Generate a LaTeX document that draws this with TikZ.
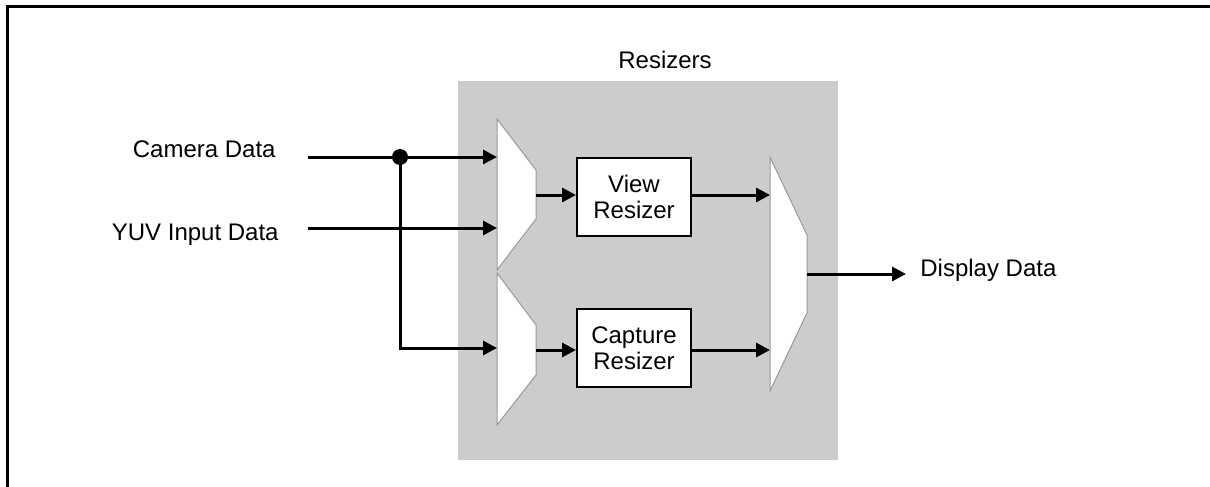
\documentclass[tikz,border=0pt]{standalone}
\usepackage{fontspec}
\setmainfont{Liberation Sans}
\usetikzlibrary{arrows.meta,positioning}
\definecolor{resbg}{RGB}{204,204,204}

\begin{document}
\begin{tikzpicture}[x=0.5pt, y=-0.5pt, font=\fontsize{12}{13}\selectfont,
  sig/.style={line width=1.5pt, -{Triangle[length=7pt,width=7pt]}},
  muxshape/.style={draw=gray!80, line width=0.5pt, fill=white},
  blk/.style={draw, line width=1pt, fill=white, minimum width=57pt,
    minimum height=39pt, align=center, inner sep=0pt},
  lbl/.style={inner sep=0pt}]
  \useasboundingbox (0,0) rectangle (1210,487);
  % outer frame
  \draw[line width=1.5pt] (7,487) -- (7,6) -- (1210,6);
  % resizer area
  \fill[resbg] (458,81) rectangle (838,460);
  \node[lbl, anchor=base] (restitle) at (665,68) {Resizers};
  % muxes
  \draw[muxshape] (497,119) -- (536,170) -- (536,219) -- (497,270) -- cycle;
  \draw[muxshape] (497,273) -- (536,325) -- (536,375) -- (497,425) -- cycle;
  \draw[muxshape] (770,157) -- (807,235) -- (807,313) -- (770,391) -- cycle;
  \node[blk] (view) at (634,197) {View\\Resizer};
  \node[blk] (capt) at (634,348) {Capture\\Resizer};
  % inputs and output labels
  \node[lbl, anchor=base east] (cam) at (276,157) {Camera Data};
  \node[lbl, anchor=base east] (yuv) at (279,240) {YUV Input Data};
  \node[lbl, anchor=base west] (disp) at (920,276) {Display Data};
  % port points
  \coordinate (camS) at (308,157);
  \coordinate (yuvS) at (308,228);
  \coordinate (tap) at (400,157);
  \coordinate (m1a) at (497,157);
  \coordinate (m1b) at (497,228);
  \coordinate (m2a) at (497,348);
  \coordinate (m1o) at (536,195);
  \coordinate (m2o) at (536,350);
  \coordinate (m3a) at (770,195);
  \coordinate (m3b) at (770,350);
  \coordinate (m3o) at (807,274);
  \coordinate (dispE) at (906,274);
  % connectors
  \draw[sig] (camS) -- (m1a);
  \draw[sig] (yuvS) -- (m1b);
  \draw[sig] (tap) |- (m2a);
  \fill (tap) circle (4pt);
  \draw[sig] (m1o) -- (m1o -| view.west);
  \draw[sig] (m2o) -- (m2o -| capt.west);
  \draw[sig] (m3a -| view.east) -- (m3a);
  \draw[sig] (m3b -| capt.east) -- (m3b);
  \draw[sig] (m3o) -- (dispE);
\end{tikzpicture}
\end{document}
